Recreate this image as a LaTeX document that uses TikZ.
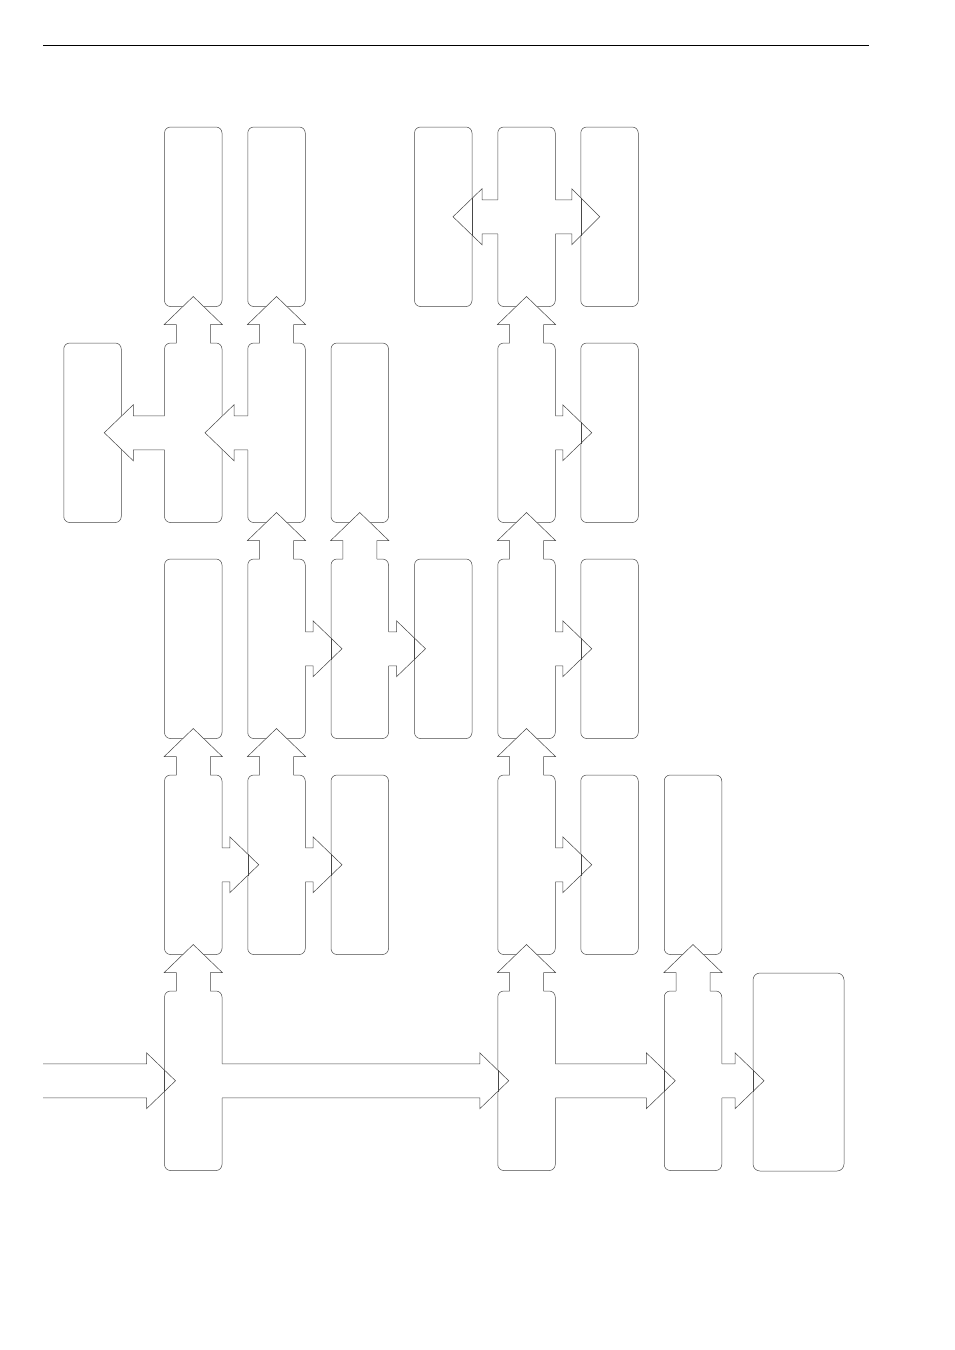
\documentclass[tikz,border=0pt]{standalone}
\usetikzlibrary{calc}
\tikzset{
  ln/.style={line width=0.5pt, draw=black!72, line join=miter},
  box/.style={ln, rectangle, rounded corners=6pt, minimum width=57.5pt,
    minimum height=179.5pt, inner sep=0pt, outer sep=0pt},
  bigbox/.style={box, rounded corners=7pt, minimum width=91pt, minimum height=198pt},
  rule/.style={line width=0.9pt, draw=black}
}
% up block arrow from #1 (source) to #2 (target)
\newcommand\arrU[2]{%
  \fill[white] let \p1=(#1.north), \p2=(#2.south) in
    (\x1-17pt,\y1-2pt) -- (\x1-17pt,\y2-18pt) -- (\x1-29pt,\y2-18pt) -- (\x1,\y2+10pt)
    -- (\x1+29pt,\y2-18pt) -- (\x1+17pt,\y2-18pt) -- (\x1+17pt,\y1-2pt) -- cycle;
  \draw[ln] let \p1=(#1.north), \p2=(#2.south) in
    (\x1-17pt,\y1) -- (\x1-17pt,\y2-18pt) -- (\x1-29pt,\y2-18pt) -- (\x1,\y2+10pt)
    -- (\x1+29pt,\y2-18pt) -- (\x1+17pt,\y2-18pt) -- (\x1+17pt,\y1);
}
% right block arrow: #1 source anchor, #2 target anchor, #3 tip offset, #4 head base offset
\newcommand\arrR[4]{%
  \fill[white] let \p1=(#1), \p2=(#2) in
    (\x1-2pt,\y1+17pt) -- (\x2+#4pt,\y1+17pt) -- (\x2+#4pt,\y1+28pt) -- (\x2+#3pt,\y1)
    -- (\x2+#4pt,\y1-28pt) -- (\x2+#4pt,\y1-17pt) -- (\x1-2pt,\y1-17pt) -- cycle;
  \draw[ln] let \p1=(#1), \p2=(#2) in
    (\x1,\y1+17pt) -- (\x2+#4pt,\y1+17pt) -- (\x2+#4pt,\y1+28pt) -- (\x2+#3pt,\y1)
    -- (\x2+#4pt,\y1-28pt) -- (\x2+#4pt,\y1-17pt) -- (\x1,\y1-17pt);
}
% left block arrow
\newcommand\arrL[4]{%
  \fill[white] let \p1=(#1), \p2=(#2) in
    (\x1+2pt,\y1+17pt) -- (\x2+#4pt,\y1+17pt) -- (\x2+#4pt,\y1+28pt) -- (\x2+#3pt,\y1)
    -- (\x2+#4pt,\y1-28pt) -- (\x2+#4pt,\y1-17pt) -- (\x1+2pt,\y1-17pt) -- cycle;
  \draw[ln] let \p1=(#1), \p2=(#2) in
    (\x1,\y1+17pt) -- (\x2+#4pt,\y1+17pt) -- (\x2+#4pt,\y1+28pt) -- (\x2+#3pt,\y1)
    -- (\x2+#4pt,\y1-28pt) -- (\x2+#4pt,\y1-17pt) -- (\x1,\y1-17pt);
}
% target edge visible through an arrow head (#2 = half length of the hidden part)
\newcommand\tgtedge[2]{\draw[ln] let \p1=(#1) in (\x1,\y1+#2pt) -- (\x1,\y1-#2pt);}
\begin{document}
\begin{tikzpicture}[x=1pt,y=-1pt]
\useasboundingbox (0,0) rectangle (954,1350);
\coordinate (ruleL) at (43,45.5);
\coordinate (ruleR) at (869,45.5);
\draw[rule] (ruleL) -- (ruleR);
% row 1
\node[box] (B1) at (193.25,216.75) {};
\node[box] (C1) at (276.5,216.75) {};
\node[box] (E1) at (443.25,216.75) {};
\node[box] (F1) at (526.5,216.75) {};
\node[box] (G1) at (609.5,216.75) {};
% row 2
\node[box] (A2) at (92.5,432.75) {};
\node[box] (B2) at (193.25,432.75) {};
\node[box] (C2) at (276.5,432.75) {};
\node[box] (D2) at (359.75,432.75) {};
\node[box] (F2) at (526.5,432.75) {};
\node[box] (G2) at (609.5,432.75) {};
% row 3
\node[box] (B3) at (193.25,648.75) {};
\node[box] (C3) at (276.5,648.75) {};
\node[box] (D3) at (359.75,648.75) {};
\node[box] (E3) at (443.25,648.75) {};
\node[box] (F3) at (526.5,648.75) {};
\node[box] (G3) at (609.5,648.75) {};
% row 4
\node[box] (B4) at (193.25,864.75) {};
\node[box] (C4) at (276.5,864.75) {};
\node[box] (D4) at (359.75,864.75) {};
\node[box] (F4) at (526.5,864.75) {};
\node[box] (G4) at (609.5,864.75) {};
\node[box] (H4) at (693,864.75) {};
% row 5
\node[box] (B5) at (193.25,1080.75) {};
\node[box] (F5) at (526.5,1080.75) {};
\node[box] (H5) at (693,1080.75) {};
\node[bigbox] (I5) at (798.5,1072) {};
\coordinate (src) at (43,1080.75);
% up arrows
\arrU{B5}{B4} \arrU{F5}{F4} \arrU{H5}{H4}
\arrU{B4}{B3} \arrU{C4}{C3} \arrU{F4}{F3}
\arrU{C3}{C2} \arrU{D3}{D2} \arrU{F3}{F2}
\arrU{B2}{B1} \arrU{C2}{C1} \arrU{F2}{F1}
% right arrows
\arrR{src}{B5.west}{11}{-18}
\arrR{B5.east}{F5.west}{11}{-18}
\arrR{F5.east}{H5.west}{11}{-18}
\arrR{H5.east}{I5.west}{11}{-18}
\arrR{B4.east}{C4.west}{11}{-18}
\arrR{C4.east}{D4.west}{11}{-18}
\arrR{F4.east}{G4.west}{11}{-18}
\arrR{C3.east}{D3.west}{11}{-18}
\arrR{D3.east}{E3.west}{11}{-18}
\arrR{F3.east}{G3.west}{11}{-18}
\arrR{F2.east}{G2.west}{11}{-18}
\arrR{F1.east}{G1.west}{19}{-9}
% left arrows
\arrL{B2.west}{A2.east}{-17}{12}
\arrL{C2.west}{B2.east}{-17}{12}
\arrL{F1.west}{E1.east}{-19}{10}
% target edges seen through heads
\tgtedge{B5.west}{11} \tgtedge{F5.west}{11} \tgtedge{H5.west}{11}
\tgtedge{$(I5.west)+(0,8.75)$}{11}
\tgtedge{C4.west}{11} \tgtedge{D4.west}{11} \tgtedge{G4.west}{11}
\tgtedge{D3.west}{11} \tgtedge{E3.west}{11} \tgtedge{G3.west}{11}
\tgtedge{G2.west}{11}
\tgtedge{G1.west}{19} \tgtedge{E1.east}{19}
\end{tikzpicture}
\end{document}
